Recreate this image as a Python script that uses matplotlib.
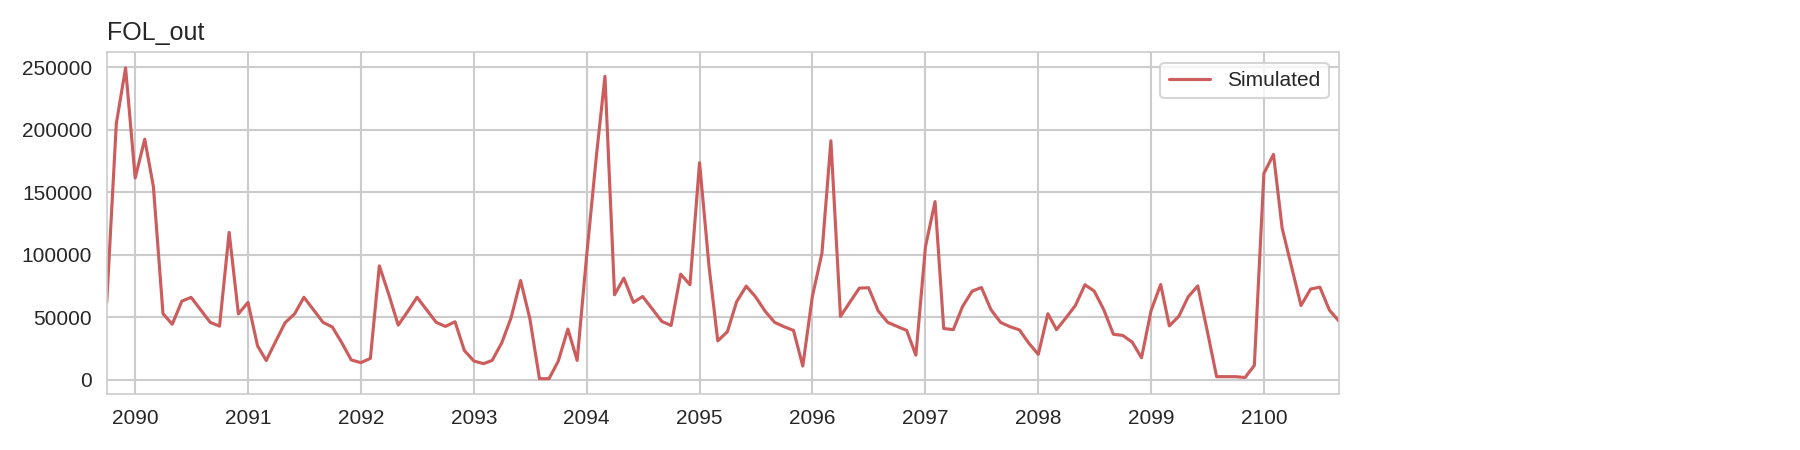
import matplotlib
matplotlib.use("Agg")
import matplotlib.pyplot as plt
import matplotlib.dates as mdates
import pandas as pd
import seaborn as sns

sns.set_style("whitegrid")
plt.rcParams["font.family"] = ["Liberation Sans", "DejaVu Sans"]

title = "FOL_out"
series_name = "Simulated"
start_month = "2089-10-01"

fol_out = [
    62000, 205000, 249500, 161500, 192500, 154500, 53000, 44500, 63000, 66000,
    56000, 46000, 43000, 118000, 52800, 62000, 27200, 15500, 31000, 45700,
    52900, 66100, 56100, 46000, 42300, 29500, 16000, 13800, 17200, 91200,
    68000, 43800, 54800, 66100, 56100, 46000, 42800, 46500, 23500, 15100,
    13000, 15600, 29600, 49500, 79500, 49000, 1000, 1000, 15100, 40700,
    15600, 100000, 178500, 242800, 68100, 81400, 62000, 66700, 56800, 46800,
    43500, 84600, 76100, 173700, 90000, 31200, 38500, 62500, 75000, 66500,
    55000, 46000, 42600, 39600, 11100, 66700, 101300, 191200, 50800, 62000,
    73400, 73700, 55200, 46000, 42800, 39600, 19800, 106600, 142600, 41100,
    40200, 58700, 71000, 73900, 56100, 46000, 42600, 40000, 29500, 20400,
    52900, 40200, 49800, 59500, 76100, 71000, 56100, 36500, 35600, 30200,
    17700, 55500, 76300, 43200, 51000, 66400, 75200, 40000, 2600, 2600,
    2600, 1900, 11600, 165200, 180300, 121300, 90000, 59500, 72600, 74200,
    55800, 47000,
]

dates = pd.date_range(start_month, periods=len(fol_out), freq="MS")

fig = plt.figure(figsize=(12, 3), dpi=150)
ax = fig.add_axes([0.0593, 0.124, 0.6846, 0.7596])
ax.plot(dates, fol_out, color="indianred", lw=1.5, label=series_name)
ax.set_xlim(dates[0], dates[-1])
ax.xaxis.set_major_locator(mdates.YearLocator())
ax.xaxis.set_major_formatter(mdates.DateFormatter("%Y"))
ax.grid(True, color="#cccccc", lw=1.0)
ax.set_title(title, loc="left", fontsize=12)
ax.legend(loc="upper right")
fig.savefig("out.png", dpi=150)
